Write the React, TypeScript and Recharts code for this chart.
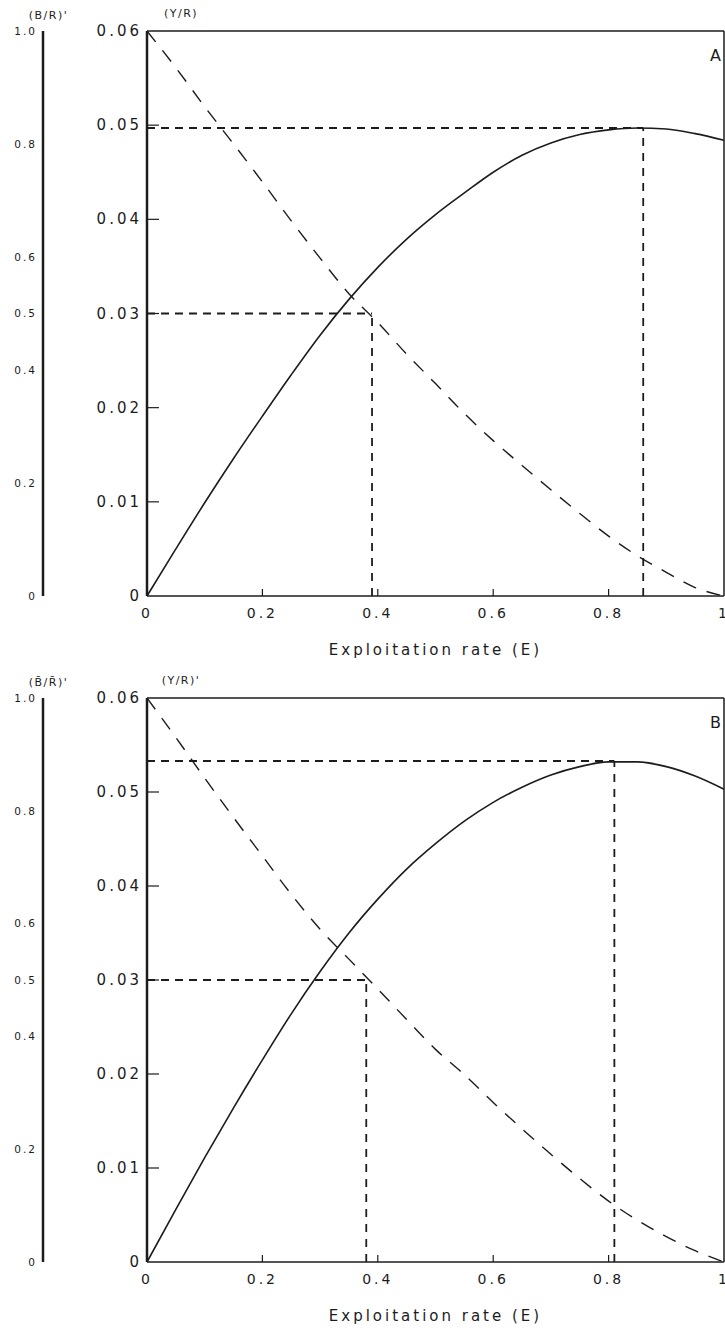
import React from 'react';
import { LineChart, Line, XAxis, YAxis, ReferenceLine } from 'recharts';

// exploitation rate E, sampled every 0.05
const exploitation = [0, 0.05, 0.1, 0.15, 0.2, 0.25, 0.3, 0.35, 0.4, 0.45, 0.5, 0.55, 0.6, 0.65, 0.7, 0.75, 0.8, 0.85, 0.9, 0.95, 1];

// panel A
const yieldA = [0, 0.005, 0.0099, 0.0146, 0.0191, 0.0235, 0.0277, 0.0315, 0.0349, 0.0379, 0.0405, 0.0428, 0.045, 0.0468, 0.0481, 0.049, 0.0495, 0.0497, 0.0496, 0.0491, 0.0484];
const biomassA = [1, 0.935, 0.866, 0.8, 0.733, 0.664, 0.598, 0.535, 0.484, 0.428, 0.376, 0.323, 0.275, 0.231, 0.188, 0.146, 0.106, 0.071, 0.042, 0.015, 0];

// panel B
const yieldB = [0, 0.0056, 0.0111, 0.0164, 0.0215, 0.0264, 0.0309, 0.035, 0.0386, 0.0418, 0.0445, 0.0469, 0.0489, 0.0505, 0.0518, 0.0527, 0.0532, 0.0532, 0.0527, 0.0517, 0.0503];
const biomassB = [1, 0.93, 0.858, 0.788, 0.72, 0.652, 0.59, 0.537, 0.484, 0.43, 0.377, 0.332, 0.283, 0.236, 0.191, 0.148, 0.108, 0.074, 0.045, 0.02, 0];

// guide values (E at max Y/R, E at B/R = 0.5)
const optimumA = { e: 0.86, y: 0.0497 };
const halfA = { e: 0.39, y: 0.03 };
const optimumB = { e: 0.81, y: 0.0533 };
const halfB = { e: 0.38, y: 0.03 };

const xTicks = [0, 0.2, 0.4, 0.6, 0.8, 1];
const yTicks = [0, 0.01, 0.02, 0.03, 0.04, 0.05, 0.06];
const brTicks = [0, 0.2, 0.4, 0.5, 0.6, 0.8, 1];

const ink = '#1c1c1c';
const font = '"DejaVu Sans", Arial, sans-serif';

const XTick = ({ x, y, payload }: any) => {
  const v = payload.value;
  const txt = v === 0 ? '0' : v === 1 ? '1' : v.toFixed(1);
  return (
    <g>
      {v > 0 && v < 1 && <line x1={x} x2={x} y1={y} y2={y - 7} stroke={ink} strokeWidth={1.2} />}
      <text x={x} y={y + 22} textAnchor="middle" fontSize={14} fontFamily={font} letterSpacing={3} fill={ink}>
        {txt}
      </text>
    </g>
  );
};

const YTick = ({ x, y, payload }: any) => {
  const v = payload.value;
  const txt = v === 0 ? '0' : v.toFixed(2);
  return (
    <g>
      {v > 0 && v < 0.06 && <line x1={x + 5} x2={x + 17} y1={y} y2={y} stroke={ink} strokeWidth={1.2} />}
      <text x={x} y={y + 5} textAnchor="end" fontSize={15} fontFamily={font} letterSpacing={3} fill={ink}>
        {txt}
      </text>
    </g>
  );
};

interface PanelProps {
  yr: number[];
  br: number[];
  optimum: { e: number; y: number };
  half: { e: number; y: number };
  letter: string;
  brTitle: string;
  yrTitle: string;
  height: number;
  top: number;
}

const Panel: React.FC<PanelProps> = ({ yr, br, optimum, half, letter, brTitle, yrTitle, height, top }) => {
  const data = exploitation.map((e, i) => ({ e, yr: yr[i], br: br[i] }));
  return (
    <LineChart width={725} height={height} data={data} margin={{ top, right: 1, left: 0, bottom: 0 }}>
      <XAxis
        dataKey="e"
        type="number"
        domain={[0, 1]}
        ticks={xTicks}
        interval={0}
        tickSize={0}
        tickMargin={0}
        tick={(p: any) => <XTick {...p} />}
        height={69}
        stroke={ink}
        strokeWidth={1.5}
        label={{ value: 'Exploitation rate (E)', position: 'insideBottom', offset: 10, fontSize: 15, fontFamily: font, letterSpacing: 3, fill: ink }}
      />
      <YAxis
        yAxisId="ratio"
        type="number"
        domain={[0, 1]}
        ticks={brTicks}
        interval={0}
        width={43}
        tickSize={0}
        tickMargin={6}
        tickFormatter={(v: number) => (v === 0 ? '0' : v.toFixed(1))}
        tick={{ fontSize: 10.5, fontFamily: font, letterSpacing: 2, fill: ink }}
        stroke={ink}
        strokeWidth={2.5}
        label={{ value: brTitle, position: 'top', dx: 27, dy: -7, fontSize: 11, fontFamily: font, letterSpacing: 1.5, fill: ink }}
      />
      <YAxis
        yAxisId="main"
        type="number"
        domain={[0, 0.06]}
        ticks={yTicks}
        interval={0}
        width={104}
        tickSize={0}
        tickMargin={5}
        tick={(p: any) => <YTick {...p} />}
        stroke={ink}
        strokeWidth={2.5}
        label={{ value: yrTitle, position: 'top', dx: 86, dy: -9, fontSize: 11, fontFamily: font, letterSpacing: 1.5, fill: ink }}
      />
      <ReferenceLine
        yAxisId="main"
        y={0.06}
        stroke={ink}
        strokeWidth={1.5}
        label={{ value: letter, position: 'insideTopRight', offset: 19, dx: 16, fontSize: 16, fontFamily: font, fill: ink }}
      />
      <ReferenceLine yAxisId="main" x={1} stroke={ink} strokeWidth={1.5} />
      <ReferenceLine yAxisId="main" segment={[{ x: 0, y: optimum.y }, { x: optimum.e, y: optimum.y }]} stroke={ink} strokeWidth={1.8} strokeDasharray="8 6" />
      <ReferenceLine yAxisId="main" segment={[{ x: optimum.e, y: 0 }, { x: optimum.e, y: optimum.y }]} stroke={ink} strokeWidth={1.8} strokeDasharray="8 7" />
      <ReferenceLine yAxisId="main" segment={[{ x: 0, y: half.y }, { x: half.e, y: half.y }]} stroke={ink} strokeWidth={1.8} strokeDasharray="8 6" />
      <ReferenceLine yAxisId="main" segment={[{ x: half.e, y: 0 }, { x: half.e, y: half.y }]} stroke={ink} strokeWidth={1.8} strokeDasharray="8 7" />
      <Line yAxisId="ratio" dataKey="br" type="monotone" stroke={ink} strokeWidth={1.4} strokeDasharray="14 11" dot={false} activeDot={false} isAnimationActive={false} />
      <Line yAxisId="main" dataKey="yr" type="monotone" stroke={ink} strokeWidth={1.6} dot={false} activeDot={false} isAnimationActive={false} />
    </LineChart>
  );
};

export default function App() {
  return (
    <div style={{ position: 'absolute', left: 0, top: 0, width: 725, height: 1331, background: '#fff' }}>
      <Panel yr={yieldA} br={biomassA} optimum={optimumA} half={halfA} letter="A" brTitle="(B/R)'" yrTitle="(Y/R)" height={665} top={31} />
      <Panel yr={yieldB} br={biomassB} optimum={optimumB} half={halfB} letter="B" brTitle={"(B\u0304/R\u0304)'"} yrTitle="(Y/R)'" height={666} top={33} />
    </div>
  );
}
